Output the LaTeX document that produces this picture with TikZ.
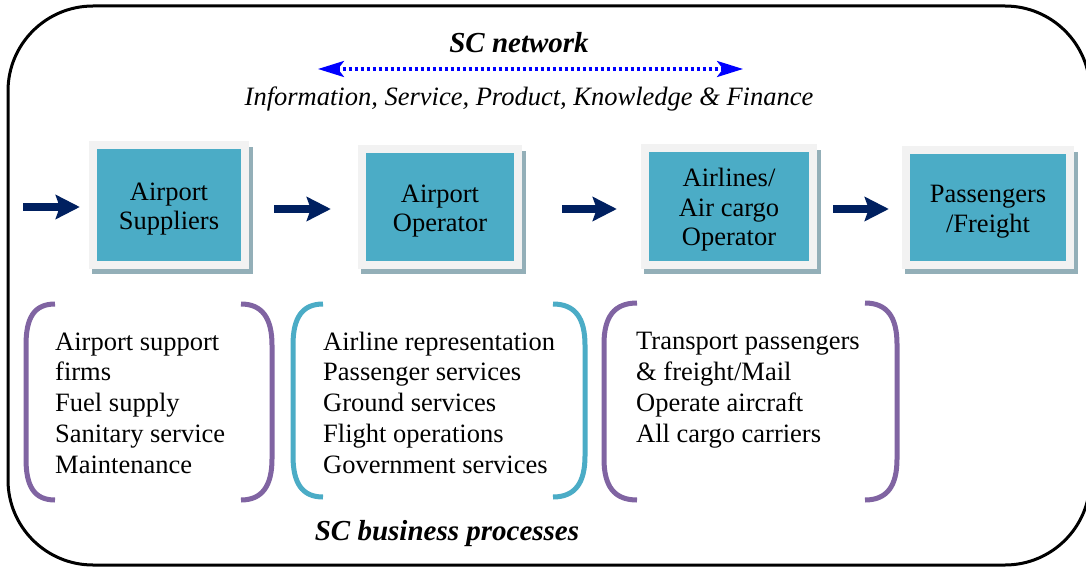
\documentclass[tikz,border=0pt]{standalone}
\usepackage{fontspec}
\setmainfont{Liberation Serif}
\usetikzlibrary{arrows.meta,backgrounds}
\definecolor{tealc}{HTML}{4BACC6}
\definecolor{framec}{HTML}{F2F2F2}
\definecolor{shadc}{HTML}{93AFB8}
\definecolor{navyc}{HTML}{002060}
\definecolor{purpc}{HTML}{8064A2}
\definecolor{bluec}{HTML}{0000FF}
\newcommand{\boxstrut}{\rule{0pt}{25.5pt}}
\begin{document}
\begin{tikzpicture}[x=1pt,y=-1pt,
  procbox/.style={fill=tealc, inner sep=0pt, align=center, font=\fontsize{26.5}{29.5}\selectfont},
  fat/.style={line width=8pt, navyc, -{Stealth[length=24pt,width=24pt,inset=4pt]}},
  listtext/.style={align=left, anchor=base west, inner sep=0pt, font=\fontsize{26.5}{30.75}\selectfont},
  titletext/.style={inner sep=0pt, anchor=base, font=\fontsize{29}{34}\selectfont\bfseries\itshape},
  purpbr/.style={purpc, line width=5pt},
  tealbr/.style={tealc, line width=5pt},
  dotarrow/.style={bluec, line width=3.5pt, dash pattern=on 3pt off 3pt,
    {Stealth[length=26pt,width=16pt,inset=6pt]}-{Stealth[length=26pt,width=16pt,inset=6pt]}}
]
\useasboundingbox (0,0) rectangle (1086,567);
\begin{scope}[on background layer]
\fill[white] (0,0) rectangle (1086,567);
\end{scope}
% outer frame
\draw[line width=3pt, rounded corners=85pt] (8,6) rectangle (1090,565);

% titles
\node[titletext] (sct) at (519,53) {SC network};
\node[inner sep=0pt, anchor=base, font=\fontsize{26.5}{30}\selectfont\itshape] (info) at (529,106) {Information, Service, Product, Knowledge \& Finance};
\node[titletext] (scb) at (447,540) {SC business processes};
\coordinate (netL) at (318,69);
\coordinate (netR) at (743,69);
\draw[dotarrow] (netL) -- (netR);

% process boxes
\node[procbox, minimum width=144pt, minimum height=112pt] (b1) at (169,205) {\boxstrut Airport\\Suppliers};
\node[procbox, minimum width=148pt, minimum height=108pt] (b2) at (440,207) {\boxstrut Airport\\Operator};
\node[procbox, minimum width=160pt, minimum height=109pt] (b3) at (729,206.5) {\boxstrut Airlines/\\Air cargo\\Operator};
\node[procbox, minimum width=156pt, minimum height=107pt] (b4) at (988,207.5) {\boxstrut Passengers\\/Freight};
\begin{scope}[on background layer]
\foreach \n in {b1,b2,b3,b4}{
  \fill[shadc] ([shift={(-4.5,-2)}]\n.north west) rectangle ([shift={(11.5,13)}]\n.south east);
  \fill[framec] ([shift={(-8,-7.5)}]\n.north west) rectangle ([shift={(8,7.5)}]\n.south east);
}
\end{scope}

% flow arrows
\coordinate (src) at (23,207);
\draw[fat, shorten >=17pt] (src) -- (b1.west |- src);
\draw[fat, shorten <=33pt, shorten >=35pt] (b1.east |- 0,209) -- (b2.west |- 0,209);
\draw[fat, shorten <=48pt, shorten >=32pt] (b2.east |- 0,209) -- (b3.west |- 0,209);
\draw[fat, shorten <=24pt, shorten >=21pt] (b3.east |- 0,209) -- (b4.west |- 0,209);

% lists (anchor = baseline of last line)
\node[listtext] (l1) at (55,473) {Airport support\\firms\\Fuel supply\\Sanitary service\\Maintenance};
\node[listtext] (l2) at (323,473) {Airline representation\\Passenger services\\Ground services\\Flight operations\\Government services};
\node[listtext] (l3) at (636,442) {Transport passengers\\\& freight/Mail\\Operate aircraft\\All cargo carriers};

% brackets
\draw[purpbr] (55,304) .. controls (34,304) and (26,318) .. (26,345) -- (26,459) .. controls (26,486) and (34,500) .. (55,500);
\draw[purpbr] (241,304) .. controls (262,304) and (272,318) .. (272,345) -- (272,459) .. controls (272,486) and (262,500) .. (241,500);
\draw[tealbr] (323,304) .. controls (302,304) and (293,318) .. (293,345) -- (293,456) .. controls (293,483) and (302,497) .. (323,497);
\draw[tealbr] (553,304) .. controls (575,304) and (585,318) .. (585,345) -- (585,456) .. controls (585,483) and (575,497) .. (553,497);
\draw[purpbr] (637,303) .. controls (614,303) and (604,317) .. (604,344) -- (604,459) .. controls (604,486) and (614,500) .. (637,500);
\draw[purpbr] (865,303) .. controls (887,303) and (897,317) .. (897,344) -- (897,459) .. controls (897,486) and (887,500) .. (865,500);
\end{tikzpicture}
\end{document}
